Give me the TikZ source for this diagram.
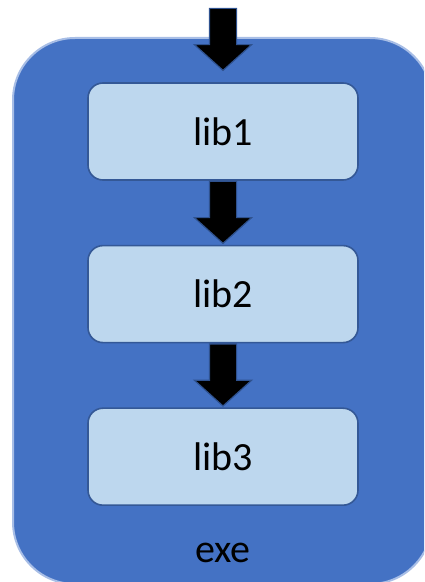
\documentclass[tikz,border=0pt]{standalone}
\usepackage{fontspec}
\setmainfont{Carlito}
\usetikzlibrary{positioning,shapes.arrows,calc}

\definecolor{exefill}{RGB}{68,114,196}
\definecolor{exeedge}{RGB}{168,190,230}
\definecolor{libfill}{RGB}{189,215,238}
\definecolor{libedge}{RGB}{52,88,150}
\definecolor{arrowedge}{RGB}{47,82,143}

\begin{document}
\begin{tikzpicture}[x=1pt,y=1pt,
  every node/.style={font=\fontsize{40}{48}\selectfont},
  exebox/.style={draw=exeedge,line width=2pt,fill=exefill,rounded corners=62pt,
    minimum width=419pt,minimum height=546pt},
  lib/.style={draw=libedge,line width=1.6pt,fill=libfill,rounded corners=15pt,
    minimum width=270pt,minimum height=97pt},
  flow/.style={single arrow,draw=arrowedge,fill=black,line width=1.2pt,
    shape border rotate=270,inner sep=13pt,minimum width=56pt,minimum height=62pt,
    single arrow head extend=15pt,single arrow tip angle=96}]

\path[use as bounding box,clip] (0,0) rectangle (424,582);

% executable frame
\node[exebox] (exe) at (222.5,271) {};
\node (exelabel) at (223,29) {exe};

% linked libraries
\node[lib] (lib1) at (223,450.5) {lib1};
\node[lib,below=64pt of lib1] (lib2) {lib2};
\node[lib,below=64pt of lib2] (lib3) {lib3};

% dependency arrows
\node[flow,anchor=tip]  (in)  at ($(lib1.north)+(0,11)$) {};
\node[flow,anchor=tail] (a12) at (lib1.south) {};
\node[flow,anchor=tail] (a23) at (lib2.south) {};

\end{tikzpicture}
\end{document}
